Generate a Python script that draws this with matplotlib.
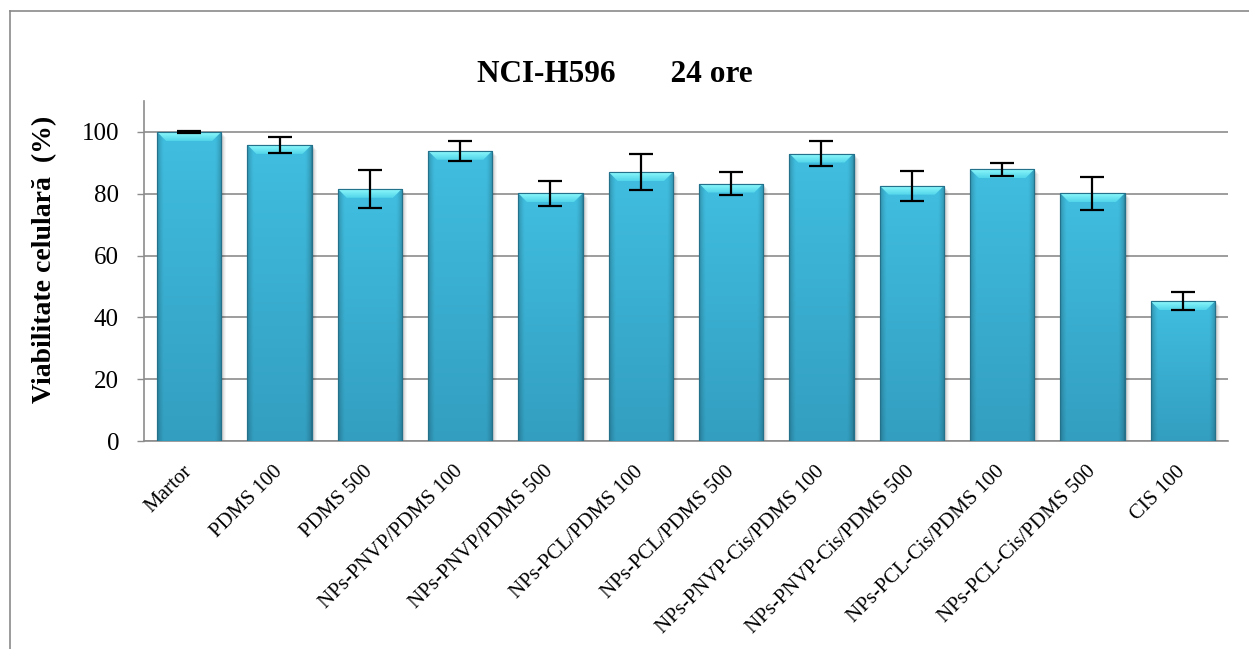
import numpy as np
import matplotlib
matplotlib.use("Agg")
import matplotlib.pyplot as plt
from matplotlib.patches import Polygon, Rectangle
from matplotlib.lines import Line2D
import matplotlib.transforms as mtransforms

categories = [
    "Martor", "PDMS 100", "PDMS 500",
    "NPs-PNVP/PDMS 100", "NPs-PNVP/PDMS 500",
    "NPs-PCL/PDMS 100", "NPs-PCL/PDMS 500",
    "NPs-PNVP-Cis/PDMS 100", "NPs-PNVP-Cis/PDMS 500",
    "NPs-PCL-Cis/PDMS 100", "NPs-PCL-Cis/PDMS 500",
    "CIS 100",
]
viability = [100.0, 95.8, 81.6, 93.9, 80.1, 87.0, 83.3, 93.0, 82.6, 87.9, 80.1, 45.2]
errors = [0.3, 2.6, 6.1, 3.2, 4.0, 5.7, 3.8, 4.1, 4.8, 2.1, 5.4, 2.9]
y_ticks = [0, 20, 40, 60, 80, 100]

plt.rcParams["font.family"] = ["Liberation Serif", "DejaVu Serif"]

W, H = 1249, 649
fig = plt.figure(figsize=(W / 100, H / 100), dpi=100)
ax = fig.add_axes([144 / W, 1 - 441 / H, (1228 - 144) / W, (441 - 101) / H])

# outer chart frame
fig.add_artist(Line2D([10 / W, 10 / W], [0, 1 - 11 / H], color="#8a8a8a", lw=1.2,
                      transform=fig.transFigure))
fig.add_artist(Line2D([10 / W, 1], [1 - 11 / H, 1 - 11 / H], color="#8a8a8a", lw=1.2,
                      transform=fig.transFigure))

x = np.arange(len(categories))
width = 0.71
bars = ax.bar(x, viability, width=width, color="#3ab3d8", edgecolor="#23718b",
              linewidth=0.8, zorder=3)

ax.set_xlim(-0.5, len(categories) - 0.5)
ax.set_ylim(0, 110)

# px -> data conversion helpers for decorative bevel/shadow sizes
px_y = 110 / (441 - 101)
px_x = len(categories) / (1228 - 144)

# body gradient image: darker at the sides and slightly toward the base
nx, ny = 80, 120
xs = np.linspace(0, 1, nx)
side = np.clip(np.minimum(xs, 1 - xs) / 0.10, 0, 1)
shade_x = 0.70 + 0.30 * np.sqrt(side)
top_col = np.array([0x40, 0xbe, 0xe0]) / 255
bot_col = np.array([0x33, 0x9e, 0xc0]) / 255
ts = np.linspace(0, 1, ny)[:, None]
base = top_col[None, :] * (1 - ts) + bot_col[None, :] * ts
body = base[:, None, :] * shade_x[None, :, None]
body = np.clip(body, 0, 1)

# bevel gradient for the highlighted top edge
bev_top = np.array([0x8c, 0xf7, 0xfb]) / 255
bev_bot = np.array([0x52, 0xd6, 0xea]) / 255
tb = np.linspace(0, 1, 20)[:, None]
bev = bev_top[None, :] * (1 - tb) + bev_bot[None, :] * tb
bev = np.repeat(bev[:, None, :], 10, axis=1)

for rect in bars:
    x0 = rect.get_x()
    x1 = x0 + rect.get_width()
    h = rect.get_height()
    # soft drop shadow
    for k, a in zip(range(1, 6), [0.10, 0.08, 0.06, 0.04, 0.03]):
        ax.add_patch(Rectangle((x0 + k * px_x, -k * px_y), rect.get_width(), h,
                               facecolor="black", alpha=a, lw=0, zorder=2))
    im = ax.imshow(body, extent=(x0, x1, 0, h), aspect="auto", zorder=3.1,
                   interpolation="bilinear", origin="upper")
    im.set_clip_path(rect)
    d = 9 * px_y
    inset = 9 * px_x
    trap = Polygon([(x0, h), (x1, h), (x1 - inset, h - d), (x0 + inset, h - d)],
                   closed=True, facecolor="none", edgecolor="none", zorder=3.2)
    ax.add_patch(trap)
    imb = ax.imshow(bev, extent=(x0, x1, h - d, h), aspect="auto", zorder=3.2,
                    interpolation="bilinear", origin="upper")
    imb.set_clip_path(trap)
    ax.add_patch(Rectangle((x0, 0), rect.get_width(), h, facecolor="none",
                           edgecolor="#23718b", lw=0.8, zorder=3.3))

ax.errorbar(x, viability, yerr=errors, fmt="none", ecolor="black",
            elinewidth=1.6, capsize=8.4, capthick=1.6, zorder=5)

ax.set_xlim(-0.5, len(categories) - 0.5)
ax.set_ylim(0, 110)

ax.set_yticks(y_ticks)
ax.set_yticklabels([str(v) for v in y_ticks], fontsize=18)
ax.yaxis.grid(True, color="#8c8c8c", lw=1.2, zorder=0)
ax.set_axisbelow(True)
ax.tick_params(axis="y", length=5, width=1, color="#8c8c8c", pad=13)
ax.tick_params(axis="x", length=0, pad=20)

ax.set_xticks(x)
ax.set_xticklabels(categories, fontsize=15, rotation=45, ha="right",
                   rotation_mode="anchor", va="center")
offset = mtransforms.ScaledTranslation(0, 0, fig.dpi_scale_trans)
for lab in ax.get_xticklabels():
    lab.set_transform(lab.get_transform() + offset)

for s in ["top", "right"]:
    ax.spines[s].set_visible(False)
for s in ["left", "bottom"]:
    ax.spines[s].set_color("#8c8c8c")
    ax.spines[s].set_linewidth(1.2)

fig.text(615 / W, 1 - 74 / H, "NCI-H596       24 ore", fontsize=22.5,
         fontweight="bold", ha="center", va="center")
fig.text(45 / W, 1 - 259 / H, "Viabilitate celulară  (%)", fontsize=20,
         fontweight="bold", ha="center", va="center", rotation=90)

fig.savefig("out.png", dpi=100, facecolor="white")
